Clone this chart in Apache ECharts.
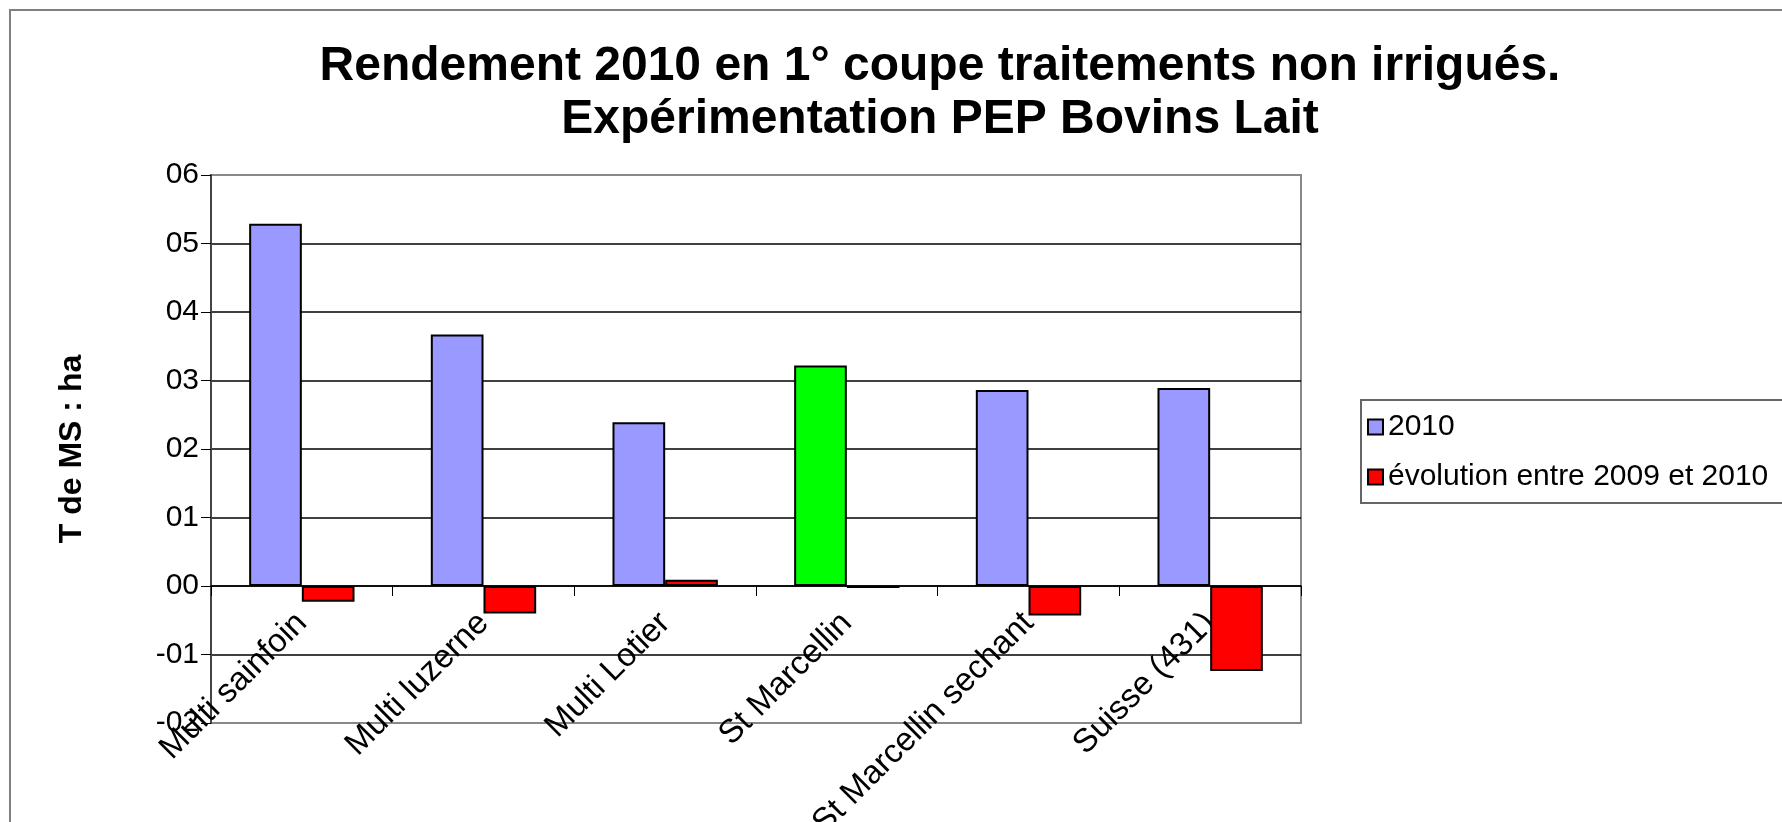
<!DOCTYPE html>
<html>
<head>
<meta charset="utf-8">
<script src="https://cdn.jsdelivr.net/npm/echarts@6/dist/echarts.min.js"></script>
<style>
  html, body { margin: 0; padding: 0; background: #fff; }
  #chart { width: 1782px; height: 822px; }
</style>
</head>
<body>
<div id="chart"></div>
<script>
const categories = ['Multi sainfoin', 'Multi luzerne', 'Multi Lotier', 'St Marcellin', 'St Marcellin sechant', 'Suisse (431)']
const values2010 = [0.529, 0.367, 0.239, 0.322, 0.286, 0.289]
const evolution = [-0.023, -0.040, 0.009, -0.003, -0.043, -0.124]
const yTickLabels = ['-02', '-01', '00', '01', '02', '03', '04', '05', '06']
const highlighted = 'St Marcellin'

const font = '"Liberation Sans", Arial, sans-serif'
const chart = echarts.init(document.getElementById('chart'))

// bar colours as in the sheet, the reference treatment in green
const blueData = values2010.map((v, i) => categories[i] === highlighted
  ? { value: v, itemStyle: { color: '#00ff00' } }
  : v)

const option = {
  backgroundColor: '#fff',
  animation: false,
  title: {
    text: 'Rendement 2010 en 1° coupe traitements non irrigués.\nExpérimentation PEP Bovins Lait',
    left: 935,
    top: 35,
    textAlign: 'center',
    textStyle: { fontFamily: font, fontSize: 48, fontWeight: 'bold', color: '#000', lineHeight: 53 }
  },
  legend: {
    orient: 'vertical',
    left: 1367,
    top: 412,
    padding: 0,
    icon: 'rect',
    itemWidth: 15,
    itemHeight: 15,
    itemGap: 20,
    textStyle: { fontFamily: font, fontSize: 30, color: '#000', lineHeight: 30 },
    data: ['2010', 'évolution entre 2009 et 2010']
  },
  grid: {
    left: 211, right: 481, top: 175, bottom: 99,
    outerBoundsMode: 'none',
    show: true, borderColor: '#888', borderWidth: 2
  },
  xAxis: {
    type: 'category',
    data: categories,
    axisLine: { onZero: true, lineStyle: { color: '#000', width: 1.5 } },
    axisTick: { show: true, length: 10, lineStyle: { color: '#000', width: 1 } },
    axisLabel: {
      // labels sit under the zero line, not under the plot bottom
      interval: 0, rotate: 45, margin: -105,
      fontFamily: font, fontSize: 33, color: '#000'
    }
  },
  yAxis: {
    type: 'value',
    min: -0.2, max: 0.6, interval: 0.1,
    name: 'T de MS : ha',
    nameLocation: 'middle',
    nameGap: 123,
    nameTextStyle: { fontFamily: font, fontSize: 32, fontWeight: 'bold', color: '#000' },
    axisLine: { show: true, lineStyle: { color: '#444', width: 2 } },
    axisTick: { show: true, length: 10, lineStyle: { color: '#000', width: 1 } },
    axisLabel: {
      margin: 12, fontFamily: font, fontSize: 30, color: '#000',
      formatter: (v) => yTickLabels[Math.round((v + 0.2) * 10)]
    },
    splitLine: {
      lineStyle: { color: ['#888', '#000', '#000', '#000', '#000', '#000', '#000', '#000', '#888'], width: 1.5 }
    }
  },
  series: [
    {
      name: '2010',
      type: 'bar',
      data: blueData,
      barGap: '0%',
      barCategoryGap: '42%',
      itemStyle: { color: '#9999ff', borderColor: '#000', borderWidth: 2 }
    },
    {
      name: 'évolution entre 2009 et 2010',
      type: 'bar',
      data: evolution,
      barGap: '0%',
      barCategoryGap: '42%',
      itemStyle: { color: '#ff0000', borderColor: '#000', borderWidth: 2 }
    }
  ],
  graphic: [
    {
      type: 'rect', silent: true, z: -1,
      shape: { x: 10, y: 10, width: 1800, height: 860 },
      style: { fill: null, stroke: '#808080', lineWidth: 2 }
    },
    {
      type: 'rect', silent: true,
      shape: { x: 1361, y: 400, width: 500, height: 103 },
      style: { fill: null, stroke: '#666', lineWidth: 2 }
    }
  ]
}

chart.setOption(option)
</script>
</body>
</html>
